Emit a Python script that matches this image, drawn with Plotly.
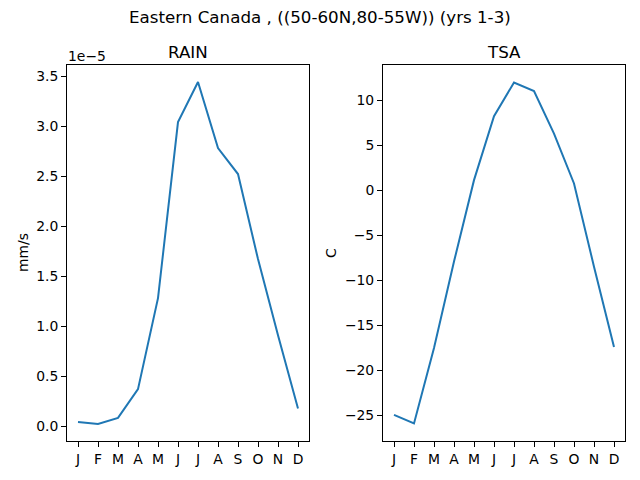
import plotly.graph_objects as go

# Monthly climatology values
months = ["J", "F", "M", "A", "M", "J", "J", "A", "S", "O", "N", "D"]
rain = [0.043e-5, 0.023e-5, 0.083e-5, 0.37e-5, 1.28e-5, 3.04e-5,
        3.44e-5, 2.78e-5, 2.52e-5, 1.67e-5, 0.91e-5, 0.177e-5]
tsa = [-24.95, -25.9, -17.5, -7.9, 1.15, 8.25,
       12.0, 11.06, 6.33, 0.78, -8.47, -17.4]

x = list(range(12))
rain_scaled = [v / 1e-5 for v in rain]

# page body has an 8px margin, so the figure starts at (8, 8)
OFF = 8
W, H = 640 - OFF, 480 - OFF
def px_x(p):
    return (p - OFF) / W
def px_y(p):
    return 1 - (p - OFF) / H

blue = "#1f77b4"
font = dict(family="DejaVu Sans", size=13.9, color="black")
title_font = dict(family="DejaVu Sans", size=16.7, color="black")

fig = go.Figure()
fig.add_trace(go.Scatter(x=x, y=rain_scaled, mode="lines",
                         line=dict(color=blue, width=2), xaxis="x", yaxis="y"))
fig.add_trace(go.Scatter(x=x, y=tsa, mode="lines",
                         line=dict(color=blue, width=2), xaxis="x2", yaxis="y2"))

axis_common = dict(showline=True, mirror=True, linecolor="black", linewidth=1,
                   ticks="outside", ticklen=5, tickcolor="black", tickwidth=1,
                   showgrid=False, zeroline=False, automargin=False,
                   tickfont=font)

fig.update_layout(
    width=W, height=H,
    margin=dict(l=0, r=0, t=0, b=0),
    paper_bgcolor="white", plot_bgcolor="white",
    showlegend=False,
    font=font,
    xaxis=dict(domain=[px_x(67), px_x(309)], range=[-0.55, 11.55],
               tickvals=x, ticktext=months, anchor="y", **axis_common),
    yaxis=dict(domain=[px_y(441), px_y(65)], range=[-0.148, 3.61],
               tickvals=[0, 0.5, 1, 1.5, 2, 2.5, 3, 3.5], tickformat=".1f",
               anchor="x", **axis_common),
    xaxis2=dict(domain=[px_x(383), px_x(625)], range=[-0.55, 11.55],
                tickvals=x, ticktext=months, anchor="y2", **axis_common),
    yaxis2=dict(domain=[px_y(441), px_y(65)], range=[-27.85, 13.95],
                tickvals=[-25, -20, -15, -10, -5, 0, 5, 10],
                anchor="x2", **axis_common),
)

annotations = [
    dict(text="Eastern Canada , ((50-60N,80-55W)) (yrs 1-3)", x=px_x(320), y=px_y(17),
         font=title_font),
    dict(text="RAIN", x=px_x(188), y=px_y(52), font=title_font),
    dict(text="TSA", x=px_x(504), y=px_y(52), font=title_font),
    dict(text="1e\u22125", x=px_x(66), y=px_y(56), xanchor="left", font=font),
    dict(text="mm/s", x=px_x(23), y=px_y(253), textangle=-90, font=font),
    dict(text="C", x=px_x(331), y=px_y(253), textangle=-90, font=font),
]
for a in annotations:
    a.setdefault("xanchor", "center")
    a.update(xref="paper", yref="paper", yanchor="middle", showarrow=False)
    fig.add_annotation(**a)

fig.write_html("out.html")
